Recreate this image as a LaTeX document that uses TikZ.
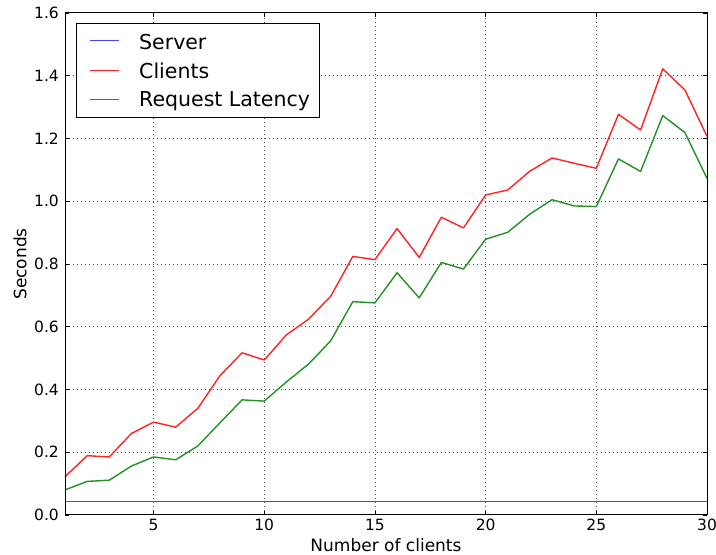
\documentclass[tikz,border=0pt]{standalone}
\usepackage{fontspec}
\setmainfont{DejaVu Sans}
\definecolor{srvblue}{RGB}{70,70,255}
\definecolor{clired}{RGB}{255,35,35}
\definecolor{latgreen}{RGB}{35,145,35}
\begin{document}
\begin{tikzpicture}[x=1pt,y=1pt,
  ticklab/.style={font=\fontsize{15.5}{18}\selectfont, inner sep=0pt},
  axlab/.style={font=\fontsize{17}{20}\selectfont, inner sep=0pt},
  legtext/.style={font=\fontsize{20.5}{24}\selectfont, inner sep=0pt, anchor=west},
  gridline/.style={black!70, line width=0.6pt, dash pattern=on 1pt off 3pt},
  frame/.style={black, line width=1pt},
  tick/.style={black, line width=0.8pt},
  server/.style={srvblue, line width=1.6pt},
  clients/.style={clired, line width=1.4pt, line join=round},
  latency/.style={latgreen, line width=1.4pt, line join=round}]
\useasboundingbox (0,0) rectangle (716,555);
\fill[white] (0,0) rectangle (716,555);
\begin{scope}[shift={(42.862,40)}, x=22.138pt, y=313.75pt]
  % grid
  \foreach \gx in {5,10,15,20,25} \draw[gridline] (\gx,0) -- (\gx,1.6);
  \foreach \gy in {0.2,0.4,...,1.41} \draw[gridline] (1,\gy) -- (30,\gy);
  % data
  \draw[server] (1,0.043) -- (30,0.043);
  \draw[clients] plot coordinates {(1,0.122) (2,0.189) (3,0.185) (4,0.26) (5,0.296) (6,0.28) (7,0.34) (8,0.444) (9,0.517) (10,0.494) (11,0.574) (12,0.624) (13,0.697) (14,0.824) (15,0.814) (16,0.913) (17,0.821) (18,0.949) (19,0.915) (20,1.02) (21,1.036) (22,1.096) (23,1.138) (24,1.121) (25,1.105) (26,1.277) (27,1.227) (28,1.422) (29,1.355) (30,1.207)};
  \draw[latency] plot coordinates {(1,0.08) (2,0.107) (3,0.111) (4,0.156) (5,0.185) (6,0.176) (7,0.22) (8,0.294) (9,0.367) (10,0.363) (11,0.424) (12,0.481) (13,0.555) (14,0.68) (15,0.676) (16,0.772) (17,0.692) (18,0.805) (19,0.784) (20,0.879) (21,0.901) (22,0.959) (23,1.005) (24,0.985) (25,0.983) (26,1.135) (27,1.095) (28,1.273) (29,1.219) (30,1.073)};
  % ticks
  \foreach \gx in {5,10,15,20,25,30} {
    \draw[tick] (\gx,0) -- ++(0,4pt);
    \draw[tick] (\gx,1.6) -- ++(0,-4pt);
    \node[ticklab, anchor=north] (xl\gx) at ([yshift=-4pt]\gx,0) {\gx};
  }
  \foreach \gy/\lab in {0/0.0,0.2/0.2,0.4/0.4,0.6/0.6,0.8/0.8,1.0/1.0,1.2/1.2,1.4/1.4,1.6/1.6} {
    \draw[tick] (1,\gy) -- ++(4pt,0);
    \draw[tick] (30,\gy) -- ++(-4pt,0);
    \node[ticklab, anchor=east] (yl\lab) at ([xshift=-6pt]1,\gy) {\lab};
  }
  \draw[frame] (1,0) rectangle (30,1.6);
\end{scope}
% axis labels
\node[axlab] (xlabel) at (386,10) {Number of clients};
\node[axlab, rotate=90] (ylabel) at (20,291) {Seconds};
% legend
\draw[frame, fill=white] (76,437) rectangle (319,531);
\coordinate (la1) at (90,514.3); \coordinate (lb1) at (119,514.3);
\coordinate (la2) at (90,484.7); \coordinate (lb2) at (119,484.7);
\coordinate (la3) at (90,455.7); \coordinate (lb3) at (119,455.7);
\draw[server] (la1) -- (lb1);
\draw[clients] (la2) -- (lb2);
\draw[latency] (la3) -- (lb3);
\node[legtext] (t1) at (139,513.3) {Server};
\node[legtext] (t2) at (139,483.7) {Clients};
\node[legtext] (t3) at (139,454.2) {Request Latency};
\end{tikzpicture}
\end{document}
